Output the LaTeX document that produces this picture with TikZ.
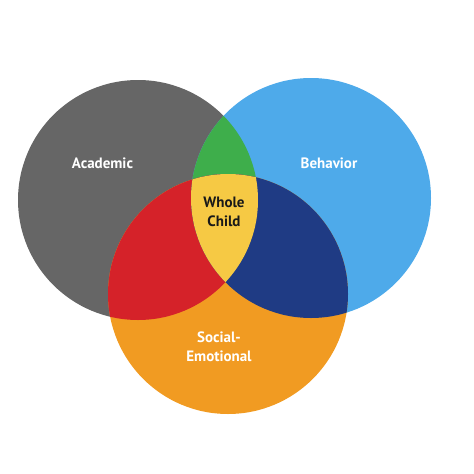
\documentclass[tikz,border=0pt]{standalone}
\usepackage{fontspec}
\setmainfont{PT Sans}
\definecolor{acad}{HTML}{666666}
\definecolor{behav}{HTML}{4EAAEA}
\definecolor{social}{HTML}{F19B22}
\definecolor{lensgreen}{HTML}{3EAE4B}
\definecolor{lensred}{HTML}{D52229}
\definecolor{lensblue}{HTML}{1F3B84}
\definecolor{core}{HTML}{F6C944}
\tikzset{
  lbl/.style={font=\fontsize{15}{19}\selectfont\bfseries, text=white, align=center},
  corelbl/.style={font=\fontsize{15}{19}\selectfont\bfseries, text=black!90, align=center}
}
\begin{document}
\begin{tikzpicture}[x=1pt,y=-1pt]
\useasboundingbox (0,0) rectangle (474,474);
\def\R{120}
\coordinate (ca) at (138,200);
\coordinate (cb) at (311,198);
\coordinate (cc) at (228,294);
\fill[acad] (ca) circle (\R);
\fill[behav] (cb) circle (\R);
\fill[social] (cc) circle (\R);
\begin{scope}
  \clip (ca) circle (\R);
  \fill[lensgreen] (cb) circle (\R);
  \fill[lensred] (cc) circle (\R);
\end{scope}
\begin{scope}
  \clip (cb) circle (\R);
  \fill[lensblue] (cc) circle (\R);
\end{scope}
\begin{scope}
  \clip (ca) circle (\R);
  \clip (cb) circle (\R);
  \fill[core] (cc) circle (\R);
\end{scope}
\node[lbl] (academic) at (102.5,163) {Academic};
\node[lbl] (behavior) at (329,163) {Behavior};
\node[lbl] (social) at (219,347) {Social-\\Emotional};
\node[corelbl] (whole) at (224,212) {Whole\\Child};
\end{tikzpicture}
\end{document}
